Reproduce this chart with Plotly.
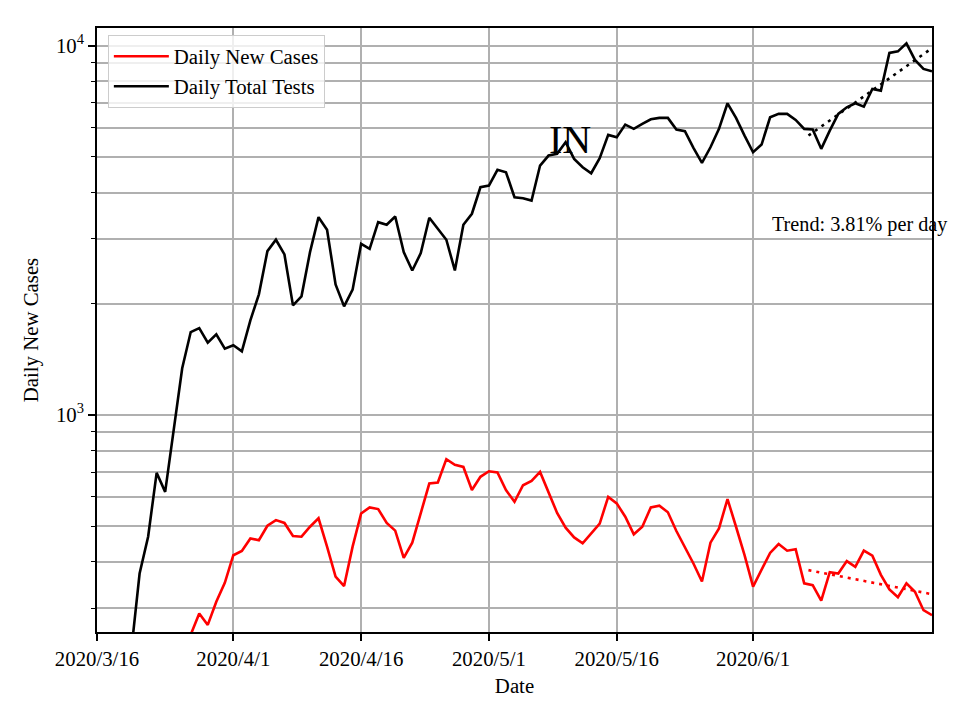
import pandas as pd
import plotly.graph_objects as go

# ---- data ----
tests_start = "2020-03-20"
daily_total_tests = [
    227, 372, 468, 697, 619, 904, 1338, 1677, 1719, 1570,
    1653, 1512, 1544, 1487, 1804, 2121, 2777, 2982, 2721, 1980,
    2095, 2760, 3433, 3174, 2257, 1968, 2184, 2908, 2818, 3327,
    3273, 3448, 2760, 2462, 2743, 3420, 3194, 2982, 2462, 3273,
    3506, 4137, 4181, 4611, 4543, 3888, 3864, 3808, 4736, 5041,
    5095, 5476, 4938, 4687, 4514, 4960, 5734, 5649, 6114, 5953,
    6141, 6319, 6375, 6375, 5927, 5865, 5289, 4817, 5308, 5953,
    6983, 6375, 5709, 5145, 5399, 6400, 6537, 6537, 6295, 5953,
    5927, 5256, 5890, 6537, 6811, 6983, 6839, 7636, 7556, 9556,
    9651, 10144, 9150, 8649, 8521,
]

cases_start = "2020-03-27"
daily_new_cases = [
    254, 290, 270, 312, 351, 417, 428, 463, 458, 501,
    519, 510, 470, 468, 498, 525, 440, 365, 344, 440,
    541, 562, 556, 510, 486, 410, 451, 541, 652, 656,
    759, 733, 723, 626, 680, 704, 699, 626, 582, 645,
    663, 701, 615, 543, 495, 466, 449, 478, 508, 600,
    576, 530, 475, 498, 562, 568, 545, 485, 440, 396,
    354, 451, 493, 592, 498, 417, 343, 380, 423, 447,
    429, 433, 350, 346, 314, 375, 372, 402, 388, 429,
    416, 369, 337, 321, 350, 332, 296, 287,
]

trend_dates = ["2020-06-07 12:00", "2020-06-22"]
tests_trend = [5710, 9845]
cases_trend = [380, 327]
trend_label = "Trend: 3.81% per day"
state_label = "IN"

xtick_vals = ["2020-03-16", "2020-04-01", "2020-04-16", "2020-05-01", "2020-05-16", "2020-06-01"]
xtick_text = ["2020/3/16", "2020/4/1", "2020/4/16", "2020/5/1", "2020/5/16", "2020/6/1"]
ytick_vals = [1000, 10000]
ytick_text = ["10<sup>3</sup>", "10<sup>4</sup>"]
yminor_vals = [300, 400, 500, 600, 700, 800, 900,
               2000, 3000, 4000, 5000, 6000, 7000, 8000, 9000]

tests_dates = pd.date_range(tests_start, periods=len(daily_total_tests), freq="D")
cases_dates = pd.date_range(cases_start, periods=len(daily_new_cases), freq="D")

FONT = "Liberation Serif, Times New Roman, serif"
FS = 20.8
GRID = "#b0b0b0"

fig = go.Figure()
fig.add_trace(go.Scatter(x=cases_dates, y=daily_new_cases, mode="lines",
                         name="Daily New Cases", line=dict(color="red", width=2.6)))
fig.add_trace(go.Scatter(x=tests_dates, y=daily_total_tests, mode="lines",
                         name="Daily Total Tests", line=dict(color="black", width=2.6)))
fig.add_trace(go.Scatter(x=trend_dates, y=cases_trend, mode="lines", showlegend=False,
                         line=dict(color="red", width=2.6, dash="3px,5px")))
fig.add_trace(go.Scatter(x=trend_dates, y=tests_trend, mode="lines", showlegend=False,
                         line=dict(color="black", width=2.6, dash="3px,5px")))

fig.update_layout(
    width=952, height=704,
    margin=dict(l=89, r=28, t=20, b=80),
    paper_bgcolor="white", plot_bgcolor="white",
    font=dict(family=FONT, size=FS, color="black"),
    showlegend=True,
    legend=dict(x=0.013, y=0.988, xanchor="left", yanchor="top",
                bgcolor="rgba(255,255,255,0.8)", bordercolor="#cccccc", borderwidth=1,
                itemwidth=55,
                font=dict(family=FONT, size=FS)),
    xaxis=dict(
        type="date", range=["2020-03-16", "2020-06-22"],
        tickmode="array", tickvals=xtick_vals, ticktext=xtick_text,
        ticks="outside", ticklen=7, tickwidth=1.6, tickcolor="black",
        showgrid=True, gridcolor=GRID, gridwidth=1.6,
        showline=True, linecolor="black", linewidth=1.6, mirror=True,
        zeroline=False,
        title=dict(text="Date", font=dict(family=FONT, size=FS), standoff=10),
        tickfont=dict(family=FONT, size=FS),
    ),
    yaxis=dict(
        type="log", range=[2.4122, 4.0479],
        tickmode="array", tickvals=ytick_vals, ticktext=ytick_text,
        ticks="outside", ticklen=7, tickwidth=1.6, tickcolor="black",
        showgrid=True, gridcolor=GRID, gridwidth=1.6,
        minor=dict(tickmode="array", tickvals=yminor_vals, ticks="outside",
                   ticklen=4, tickwidth=1.2, tickcolor="black",
                   showgrid=True, gridcolor=GRID, gridwidth=1.6),
        showline=True, linecolor="black", linewidth=1.6, mirror=True,
        zeroline=False,
        title=dict(text="Daily New Cases", font=dict(family=FONT, size=FS), standoff=12),
        tickfont=dict(family=FONT, size=FS),
    ),
    annotations=[
        dict(text=state_label, xref="paper", yref="paper", x=0.5665, y=0.816,
             xanchor="center", yanchor="middle", showarrow=False,
             font=dict(family=FONT, size=40, color="black")),
        dict(text=trend_label, xref="paper", yref="paper", x=0.806, y=0.674,
             xanchor="left", yanchor="middle", showarrow=False,
             font=dict(family=FONT, size=20.2, color="black")),
    ],
)

fig.write_html("out.html")
